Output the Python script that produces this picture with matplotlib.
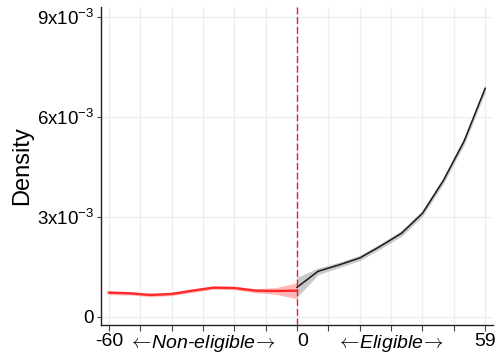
import matplotlib
matplotlib.use("Agg")
import matplotlib.pyplot as plt
import numpy as np

plt.rcParams['font.family'] = ['Liberation Sans', 'DejaVu Sans']
plt.rcParams['mathtext.fontset'] = 'cm'

# Days relative to the eligibility cutoff
x_non = [-60, -53.3, -46.7, -40, -33.3, -26.7, -20, -13.3, -6.7, 0]
x_elig = [0, 6.7, 13.3, 20, 26.7, 33.3, 40, 46.7, 53.3, 60]

# Estimated density (in units of 1e-3) and half-width of the confidence band
dens_non = [0.73, 0.71, 0.66, 0.69, 0.79, 0.88, 0.87, 0.79, 0.78, 0.79]
ci_non = [0.06, 0.05, 0.05, 0.05, 0.05, 0.05, 0.05, 0.06, 0.10, 0.24]
dens_elig = [0.89, 1.37, 1.56, 1.77, 2.13, 2.51, 3.11, 4.10, 5.28, 6.86]
ci_elig = [0.30, 0.10, 0.08, 0.08, 0.08, 0.09, 0.09, 0.10, 0.11, 0.12]

yticks = [0, 3e-3, 6e-3, 9e-3]
ytick_labels = ['0', r'$\mathregular{3x10^{-3}}$', r'$\mathregular{6x10^{-3}}$',
                r'$\mathregular{9x10^{-3}}$']
xtick_pos = [-60, -30, 1.7, 30, 60]
xtick_labels = ['-60', r'$\!\leftarrow\!$Non-eligible$\!\rightarrow\!$', '0',
                r'$\!\leftarrow\!$Eligible$\!\rightarrow\!$', '59']

fig = plt.figure(figsize=(5.0, 3.54), dpi=100)
ax = fig.add_axes([0.202, 0.082, 0.784, 0.898])

scale = 1e-3
xn = np.array(x_non); yn = np.array(dens_non) * scale; cn = np.array(ci_non) * scale
xe = np.array(x_elig); ye = np.array(dens_elig) * scale; ce = np.array(ci_elig) * scale

ax.fill_between(xn, yn - cn, yn + cn, color='#ffb0b0', lw=0, alpha=0.9, zorder=2)
ax.plot(xn, yn, color='#ff2a2a', lw=1.7, zorder=3)
ax.fill_between(xe, ye - ce, ye + ce, color='#c4c4c4', lw=0, alpha=0.9, zorder=2)
ax.plot(xe, ye, color='#1a1a1a', lw=1.1, zorder=3)

ax.axvline(0, color='#e8202a', lw=1.0, ls=(0, (5, 2)), zorder=4)

ax.set_xlim(-62.5, 62.5)
ax.set_ylim(-0.24e-3, 9.3e-3)

# tick marks and grid every 10 days; labels on separate zero-length ticks
ax.xaxis.remove_overlapping_locs = False
ax.set_xticks(np.arange(-60, 61, 10))
ax.set_xticklabels([])
ax.set_xticks(xtick_pos, minor=True)
ax.set_xticklabels(xtick_labels, minor=True)
for lab in ax.get_xticklabels(minor=True):
    if 'ligible' in lab.get_text():
        lab.set_style('italic')
ax.tick_params(axis='x', which='minor', length=0, labelsize=14, pad=6)
ax.tick_params(axis='x', which='major', length=4, width=0.8, color='#444444')

ax.set_yticks(yticks)
ax.set_yticklabels(ytick_labels)
ax.tick_params(axis='y', length=3, width=0.8, color='#444444', labelsize=13.5, pad=2)

ax.grid(True, which='major', color='#e8f0f1', lw=1.0, zorder=0)
ax.set_axisbelow(True)

for s in ['top', 'right']:
    ax.spines[s].set_visible(False)
for s in ['left', 'bottom']:
    ax.spines[s].set_color('#222222')
    ax.spines[s].set_linewidth(1.0)

ax.set_ylabel('Density', fontsize=17, labelpad=3)

fig.savefig('out.png', dpi=100, facecolor='white')
